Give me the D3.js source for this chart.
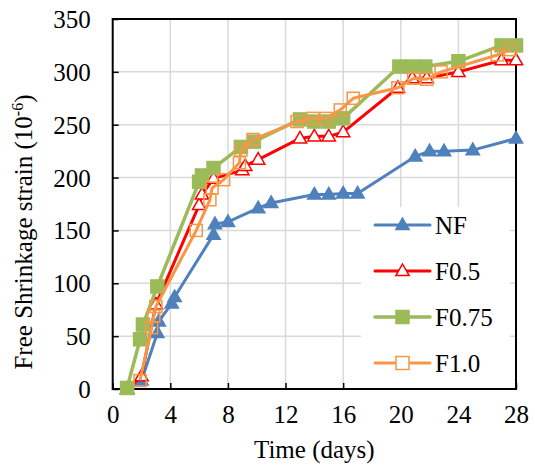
<!DOCTYPE html>
<html>
<head>
<meta charset="utf-8">
<script src="https://cdn.jsdelivr.net/npm/d3@7"></script>
<style>
  body { margin: 0; background: #fff; }
  text { font-family: "Liberation Serif", "Times New Roman", serif; }
</style>
</head>
<body>
<div id="chart"></div>
<script>
// days and free shrinkage strain (10^-6)
const nfDays = [1, 2, 3.1, 3.2, 4.1, 4.3, 7, 7.1, 8, 10.1, 11, 14, 15, 16, 17, 21, 22, 23, 25, 28];
const nfVals = [0, 8, 53, 64, 81, 87, 146, 156, 158, 171, 176, 184, 184, 185, 185, 220, 225, 225, 226, 237];

const f05Days = [1, 2, 3, 6, 6.2, 7, 9, 9.2, 10.1, 13, 14, 15, 16, 19.8, 20.8, 21.8, 24, 27, 28];
const f05Vals = [0, 12, 80, 174, 184, 199, 207, 211, 217, 237, 239, 239, 243, 285, 294, 294, 300, 311, 311];

const f075Days = [1, 1.9, 2.1, 3.1, 6, 6.2, 7, 8.9, 9.8, 13, 14, 15, 16, 19.9, 20.8, 21.7, 24, 27, 28];
const f075Vals = [1, 47, 61, 97, 196, 202, 209, 229, 234, 255, 253, 253, 256, 305, 305, 305, 310, 325, 325];

const f10Days = [1.9, 2.7, 2.85, 3, 5.8, 6.75, 6.9, 7.7, 8.8, 8.9, 9.75, 12.8, 13.9, 14.8, 15.8, 16.7, 19.8, 20.9, 21.8, 22.8, 26.7, 27.6];
const f10Vals = [8, 58, 69, 78, 150, 179, 190, 198, 214, 226, 236, 253, 256, 256, 264, 275, 285, 294, 293, 300, 316, 321];

const xTicks = [0, 4, 8, 12, 16, 20, 24, 28];
const yTicks = [0, 50, 100, 150, 200, 250, 300, 350];

const series = [
  { name: 'NF', days: nfDays, vals: nfVals, color: '#4F81BD', marker: 'tri', fill: '#4F81BD', width: 3 },
  { name: 'F0.5', days: f05Days, vals: f05Vals, color: '#FF0000', marker: 'tri', fill: '#fff', width: 3 },
  { name: 'F0.75', days: f075Days, vals: f075Vals, color: '#9BBB59', marker: 'sq', fill: '#9BBB59', width: 3.5 },
  { name: 'F1.0', days: f10Days, vals: f10Vals, color: '#F79646', marker: 'sq', fill: 'none', width: 3 }
];

const W = 535, H = 466;
const pLeft = 112.7, pRight = 516, pTop = 19, pBottom = 389;

const svg = d3.select('#chart').append('svg')
    .attr('width', W)
    .attr('height', H)
    .attr('font-family', '"Liberation Serif", serif');

const x = d3.scaleLinear().domain([0, 28]).range([pLeft, pRight]);
const y = d3.scaleLinear().domain([0, 350]).range([pBottom, pTop]);

// griglia
svg.append('g').selectAll('line')
    .data(xTicks.slice(1, -1))
    .join('line')
    .attr('x1', d => x(d)).attr('x2', d => x(d))
    .attr('y1', pTop).attr('y2', pBottom)
    .attr('stroke', '#d9d9d9').attr('stroke-width', 1.5);

svg.append('g').selectAll('line')
    .data(yTicks.slice(1, -1))
    .join('line')
    .attr('x1', pLeft).attr('x2', pRight)
    .attr('y1', d => y(d)).attr('y2', d => y(d))
    .attr('stroke', '#d9d9d9').attr('stroke-width', 1.5);

// assi con tacche interne
const xAxis = svg.append('g')
    .attr('transform', `translate(0,${pBottom})`)
    .call(d3.axisBottom(x).tickValues(xTicks).tickSizeInner(-6).tickSizeOuter(0).tickPadding(16));
const yAxis = svg.append('g')
    .attr('transform', `translate(${pLeft},0)`)
    .call(d3.axisLeft(y).tickValues(yTicks).tickSizeInner(-6).tickSizeOuter(0).tickPadding(22));

[xAxis, yAxis].forEach(a => {
    a.attr('font-family', '"Liberation Serif", serif');
    a.select('.domain').remove();
    a.selectAll('.tick line').attr('stroke', '#000').attr('stroke-width', 1.5);
    a.selectAll('.tick text')
        .attr('fill', '#000')
        .style('font-size', '25px');
});
xAxis.selectAll('.tick text').attr('dy', '0.72em');
yAxis.selectAll('.tick text').attr('dy', '0.34em');

// cornice
svg.append('rect')
    .attr('x', pLeft).attr('y', pTop)
    .attr('width', pRight - pLeft).attr('height', pBottom - pTop)
    .attr('fill', 'none').attr('stroke', '#000').attr('stroke-width', 2);

const line = d3.line().x(d => x(d[0])).y(d => y(d[1]));

function drawMarker(g, type, cx, cy, s) {
    if (type === 'tri') {
        const r = 7;
        return g.append('path')
            .attr('d', `M${cx},${cy - r}L${cx + r * 0.95},${cy + r * 0.65}L${cx - r * 0.95},${cy + r * 0.65}Z`)
            .attr('fill', s.fill).attr('stroke', s.color).attr('stroke-width', 1.5);
    }
    const h = s.fill === 'none' ? 6 : 6.5;
    return g.append('rect')
        .attr('x', cx - h).attr('y', cy - h)
        .attr('width', 2 * h).attr('height', 2 * h)
        .attr('fill', s.fill).attr('stroke', s.color).attr('stroke-width', 1.5);
}

series.forEach(s => {
    const pts = s.days.map((d, i) => [d, s.vals[i]]);
    const g = svg.append('g');
    g.append('path')
        .attr('d', line(pts))
        .attr('fill', 'none')
        .attr('stroke', s.color)
        .attr('stroke-width', s.width)
        .attr('stroke-linejoin', 'round');
    pts.forEach(p => drawMarker(g, s.marker, x(p[0]), y(p[1]), s));
});

// legenda
const lg = svg.append('g');
lg.append('rect')
    .attr('x', 361).attr('y', 207)
    .attr('width', 149).attr('height', pBottom - 208)
    .attr('fill', '#fff');
series.forEach((s, i) => {
    const ly = 225 + i * 46;
    lg.append('line')
        .attr('x1', 375).attr('x2', 430)
        .attr('y1', ly).attr('y2', ly)
        .attr('stroke', s.color).attr('stroke-width', s.width)
        .attr('stroke-linecap', 'round');
    drawMarker(lg, s.marker, 402.5, ly, s.fill === 'none' ? Object.assign({}, s, { fill: '#fff' }) : s);
    lg.append('text')
        .attr('x', 435).attr('y', ly + 9)
        .style('font-size', '25px')
        .text(s.name);
});

// titoli
svg.append('text')
    .attr('x', (pLeft + pRight) / 2).attr('y', 458)
    .attr('text-anchor', 'middle')
    .style('font-size', '25px')
    .text('Time (days)');

const yt = svg.append('text')
    .attr('transform', 'translate(32,232) rotate(-90)')
    .attr('text-anchor', 'middle')
    .style('font-size', '25px');
yt.append('tspan').text('Free Shrinkage strain (10');
yt.append('tspan').attr('dy', -9).style('font-size', '16px').text('-6');
yt.append('tspan').attr('dy', 9).text(')');
</script>
</body>
</html>
